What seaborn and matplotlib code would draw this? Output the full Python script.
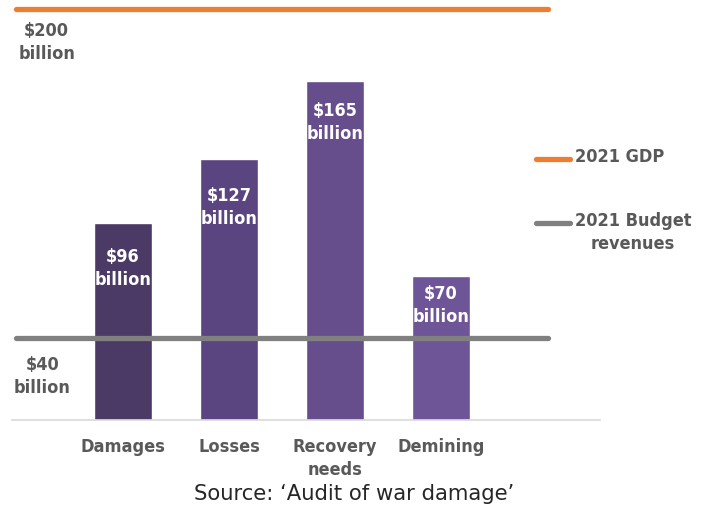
import matplotlib
matplotlib.use("Agg")
import matplotlib.pyplot as plt
import seaborn as sns
import pandas as pd

categories = ["Damages", "Losses", "Recovery\nneeds", "Demining"]
values = [96, 127, 165, 70]
bar_labels = ["$96\nbillion", "$127\nbillion", "$165\nbillion", "$70\nbillion"]
bar_colors = ["#4b3a66", "#5a4580", "#654e8b", "#6d5598"]

gdp_2021 = 200
budget_2021 = 40
ref_names = ["2021 GDP", "2021 Budget\nrevenues"]
ref_labels = ["$200\nbillion", "$40\nbillion"]
ref_colors = ["#ed7d31", "#808080"]

source = "Source: \u2018Audit of war damage\u2019"

sns.set_style("white")
plt.rcParams["font.family"] = ["DejaVu Sans"]

TXT = "#595959"
FS = 13
LS = 1.36
BOLD = dict(fontweight="bold", fontstretch="condensed", fontsize=FS, linespacing=LS)

fig = plt.figure(figsize=(7.07, 5.12), dpi=100)
ax = fig.add_axes([12 / 707, 92 / 512, 588 / 707, 421 / 512])

df = pd.DataFrame({"cat": categories, "val": values})
sns.barplot(data=df, x="cat", y="val", hue="cat", palette=bar_colors,
            width=0.55, legend=False, ax=ax, saturation=1)

# reference lines
for val, col in zip([gdp_2021, budget_2021], ref_colors):
    ax.plot([-1.01, 4.01], [val, val], color=col, lw=3.8,
            solid_capstyle="round", zorder=5)

# bar labels (white, inside near bar top); drop below top in pixels
drops = [25, 28, 21, 9]
for i, (v, lab, d) in enumerate(zip(values, bar_labels, drops)):
    ax.annotate(lab, (i, v), xytext=(0, -d * 0.72), textcoords="offset points",
                ha="center", va="top", color="white", zorder=6,
                multialignment="center", **BOLD)

# value labels on the left for the reference lines
ax.annotate(ref_labels[0], (-0.72, gdp_2021), xytext=(0, -13 * 0.72),
            textcoords="offset points", ha="center", va="top", color=TXT,
            multialignment="center", **BOLD)
ax.annotate(ref_labels[1], (-0.76, budget_2021), xytext=(0, -18 * 0.72),
            textcoords="offset points", ha="center", va="top", color=TXT,
            multialignment="center", **BOLD)

# right-side legend
for name, col, yv in zip(ref_names, ref_colors, [127, 96]):
    ax.plot([3.9, 4.22], [yv, yv], color=col, lw=3.8, solid_capstyle="round",
            clip_on=False)
    ax.annotate(name, (4.26, yv), xytext=(0, 11 * 0.72),
                textcoords="offset points", ha="left", va="top", color=TXT,
                multialignment="center", annotation_clip=False, **BOLD)

ax.set_xlim(-1.047, 4.5)
ax.set_ylim(0, 205)
ax.set_xlabel("")
ax.set_ylabel("")
ax.set_yticks([])
ax.tick_params(axis="x", length=0, pad=13, labelsize=FS, colors=TXT)
for t in ax.get_xticklabels():
    t.set_fontweight("bold")
    t.set_fontstretch("condensed")
    t.set_linespacing(LS)

for s in ["top", "right", "left"]:
    ax.spines[s].set_visible(False)
ax.spines["bottom"].set_color("#d9d9d9")
ax.spines["bottom"].set_linewidth(1.2)

fig.text(354 / 707, 1 - 494 / 512, source, ha="center", va="center",
         fontsize=15.2, color="#262626")

fig.savefig("out.png", dpi=100)
